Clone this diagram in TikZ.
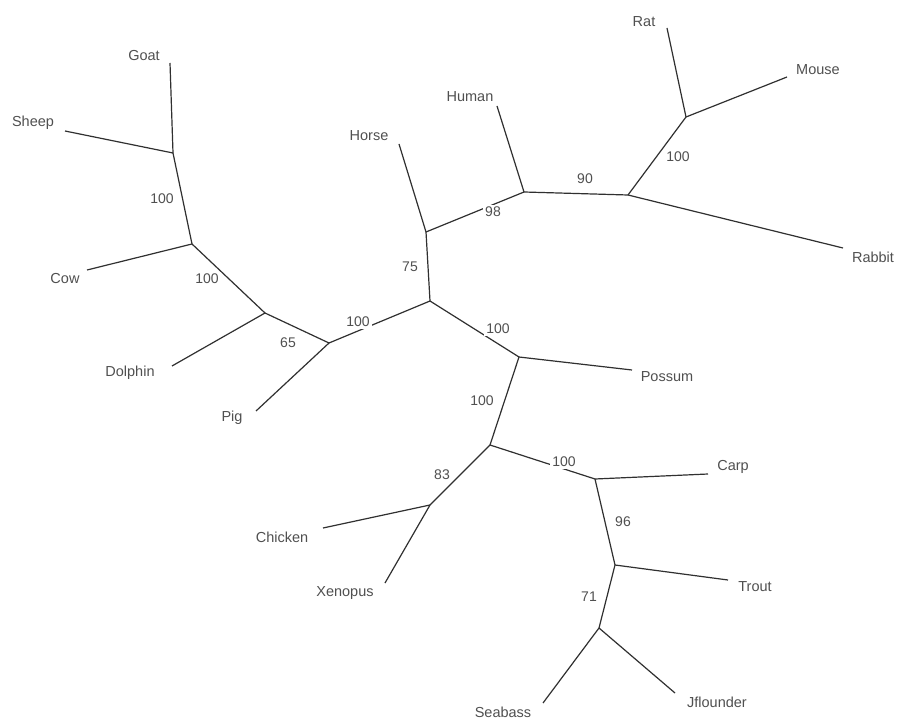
\documentclass[tikz,border=0pt]{standalone}
\usepackage{fontspec}
\setmainfont{Liberation Sans}
\definecolor{linec}{HTML}{303030}
\definecolor{textc}{HTML}{505050}
\begin{document}
\begin{tikzpicture}[x=1pt,y=-1pt,
  branch/.style={draw=linec,line width=1.2pt},
  taxon/.style={text=textc,font=\fontsize{14.5}{16}\selectfont,inner sep=0pt},
  boot/.style={text=textc,font=\fontsize{14}{16}\selectfont,inner sep=1pt},
  bootgap/.style={boot,fill=white,inner sep=2pt}]
\fill[white] (0,0) rectangle (897,719);
\useasboundingbox (0,0) rectangle (897,719);
% internal nodes
\coordinate (GS) at (173,153);
\coordinate (GSC) at (192,244);
\coordinate (BD) at (265,313);
\coordinate (CET) at (329,343);
\coordinate (HN) at (426,232);
\coordinate (A) at (430,301);
\coordinate (HU) at (524,192);
\coordinate (RO) at (628,195);
\coordinate (RM) at (686,117);
\coordinate (P) at (519,357);
\coordinate (B) at (490,445);
\coordinate (CH) at (430,505);
\coordinate (F) at (595,479);
\coordinate (T) at (615,565);
\coordinate (S) at (599,628);
% tips
\coordinate (goat) at (170,63);
\coordinate (sheep) at (65,131);
\coordinate (cow) at (87,270);
\coordinate (dolphin) at (172,366);
\coordinate (pig) at (256,411);
\coordinate (horse) at (399,144);
\coordinate (human) at (497,106);
\coordinate (rat) at (667,28);
\coordinate (mouse) at (787,77);
\coordinate (rabbit) at (843,248);
\coordinate (possum) at (632,370);
\coordinate (chicken) at (323,528);
\coordinate (xenopus) at (385,583);
\coordinate (carp) at (708,474);
\coordinate (trout) at (728,580);
\coordinate (seabass) at (543,703);
\coordinate (jflounder) at (675,693);
% branches
\draw[branch] (goat) -- (GS);
\draw[branch] (sheep) -- (GS);
\draw[branch] (GS) -- (GSC);
\draw[branch] (cow) -- (GSC);
\draw[branch] (GSC) -- (BD);
\draw[branch] (dolphin) -- (BD);
\draw[branch] (BD) -- (CET);
\draw[branch] (pig) -- (CET);
\draw[branch] (CET) -- (A);
\draw[branch] (A) -- (HN);
\draw[branch] (horse) -- (HN);
\draw[branch] (HN) -- (HU);
\draw[branch] (human) -- (HU);
\draw[branch] (HU) -- (RO);
\draw[branch] (RO) -- (RM);
\draw[branch] (rat) -- (RM);
\draw[branch] (mouse) -- (RM);
\draw[branch] (RO) -- (rabbit);
\draw[branch] (A) -- (P);
\draw[branch] (P) -- (possum);
\draw[branch] (P) -- (B);
\draw[branch] (B) -- (CH);
\draw[branch] (chicken) -- (CH);
\draw[branch] (xenopus) -- (CH);
\draw[branch] (B) -- (F);
\draw[branch] (F) -- (carp);
\draw[branch] (F) -- (T);
\draw[branch] (T) -- (trout);
\draw[branch] (T) -- (S);
\draw[branch] (S) -- (seabass);
\draw[branch] (S) -- (jflounder);
% taxon labels
\node[taxon] (lgoat) at (144,56) {Goat};
\node[taxon] (lsheep) at (33,123) {Sheep};
\node[taxon] (lcow) at (65,279) {Cow};
\node[taxon] (ldolphin) at (130,373) {Dolphin};
\node[taxon] (lpig) at (232,418) {Pig};
\node[taxon] (lhorse) at (369,136) {Horse};
\node[taxon] (lhuman) at (470,97) {Human};
\node[taxon] (lrat) at (644,22) {Rat};
\node[taxon] (lmouse) at (818,70) {Mouse};
\node[taxon] (lrabbit) at (873,257) {Rabbit};
\node[taxon] (lpossum) at (667,377) {Possum};
\node[taxon] (lchicken) at (282,537) {Chicken};
\node[taxon] (lxenopus) at (345,593) {Xenopus};
\node[taxon] (lcarp) at (733,467) {Carp};
\node[taxon] (ltrout) at (755,587) {Trout};
\node[taxon] (lseabass) at (503,712) {Seabass};
\node[taxon] (ljflounder) at (717,702) {Jflounder};
% bootstrap values
\node[boot] (b1) at (162,199) {100};
\node[bootgap] (b2) at (207,279) {100};
\node[boot] (b3) at (288,343) {65};
\node[bootgap] (b4) at (358,322) {100};
\node[boot] (b5) at (410,267) {75};
\node[bootgap] (b6) at (493,212) {98};
\node[boot] (b7) at (585,179) {90};
\node[boot] (b8) at (678,157) {100};
\node[bootgap] (b9) at (498,329) {100};
\node[boot] (b10) at (482,401) {100};
\node[bootgap] (b11) at (564,462) {100};
\node[bootgap] (b12) at (442,475) {83};
\node[boot] (b13) at (623,522) {96};
\node[boot] (b14) at (589,597) {71};
\end{tikzpicture}
\end{document}
